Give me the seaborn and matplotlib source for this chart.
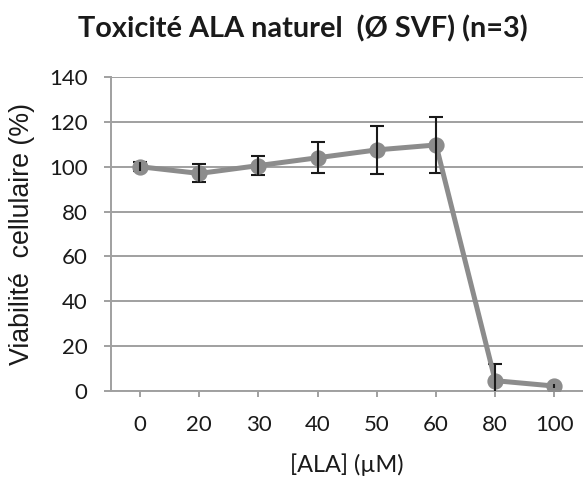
import matplotlib
matplotlib.use("Agg")
import matplotlib.pyplot as plt
import seaborn as sns
import numpy as np
import pandas as pd

categories = ["0", "20", "30", "40", "50", "60", "80", "100"]
viability = [100, 97, 100.5, 104, 107.5, 109.7, 4.6, 2.2]
errors = [2, 4, 4.2, 7, 10.7, 12.4, 7.3, 1]

sns.set_theme(style="white")
plt.rcParams['font.family'] = ['Lato', 'DejaVu Sans']

W, H = 583, 478
fig = plt.figure(figsize=(W/100, H/100), dpi=100)
ax = fig.add_axes([110.5/W, 1-391/H, (584-110.5)/W, (391-77)/H])

df = pd.DataFrame({"ALA": categories, "viab": viability})
gray = "#8c8c8c"
gridc = "#a0a0a0"
ink = "#1a1a1a"
ax.errorbar(np.arange(len(categories)), viability, yerr=errors, fmt="none",
            ecolor=ink, elinewidth=1.5, capsize=4.7, capthick=1.5, zorder=2)
sns.pointplot(data=df, x="ALA", y="viab", color=gray, ax=ax, markers="o",
              linewidth=3.6, markersize=9, zorder=3)
for coll in ax.collections:
    coll.set_zorder(4)

ax.set_xlim(-0.5, 7.5)
ax.set_ylim(0, 140)
ax.set_yticks(np.arange(0, 141, 20))
ax.yaxis.grid(True, color=gridc, linewidth=1.4)
ax.set_axisbelow(True)
for s in ["top", "right"]:
    ax.spines[s].set_visible(False)
for s in ["left", "bottom"]:
    ax.spines[s].set_color(gridc)
    ax.spines[s].set_linewidth(1.4)
ax.tick_params(axis="x", direction="out", length=4.3, width=1.4, color=gridc,
               labelsize=16, pad=13, bottom=True, labelcolor=ink)
ax.tick_params(axis="y", direction="out", length=5, width=1.4, color=gridc,
               labelsize=16, pad=11.5, left=True, labelcolor=ink)
xl = ax.set_xlabel("[ALA] (µM)", fontsize=16.5, labelpad=13, color=ink)
yl = ax.set_ylabel("Viabilité  cellulaire (%)", fontsize=19, labelpad=10, color=ink,
                   family=["Liberation Sans", "DejaVu Sans"])
title = fig.text(302.5/W, 1-37/H, "Toxicité ALA naturel  (Ø SVF) (n=3)", ha="center",
                 va="baseline", fontsize=19, fontweight="bold", color=ink)

# fit text sizes to the reference extents (pixels)
fig.canvas.draw()
r = fig.canvas.get_renderer()
def fit(t, target, horizontal=True):
    bb = t.get_window_extent(r)
    cur = bb.width if horizontal else bb.height
    t.set_fontsize(t.get_fontsize() * target / cur)
fit(title, 449)
fit(xl, 114)
fit(yl, 263, horizontal=False)

fig.savefig("out.png", dpi=100)
